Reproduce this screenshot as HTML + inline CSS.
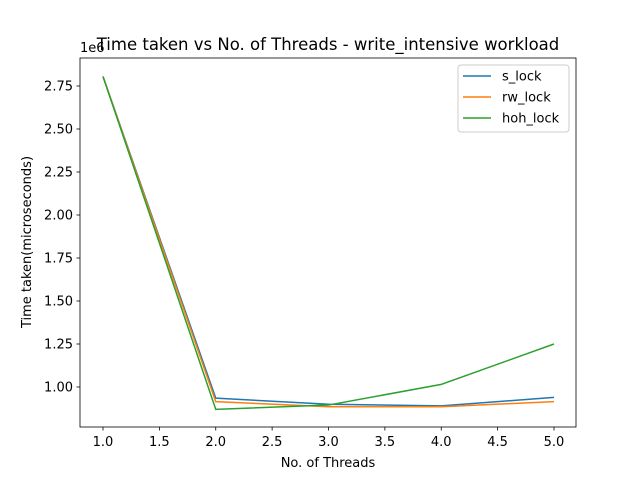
<!DOCTYPE html>
<html><head><meta charset="utf-8"><style>
body{margin:0;background:#fff;font-family:"Liberation Sans","DejaVu Sans",sans-serif}
</style></head><body>
<svg id="chart" width="640" height="480" xmlns="http://www.w3.org/2000/svg" font-family="DejaVu Sans, Liberation Sans, sans-serif">
<rect width="640" height="480" fill="#fff"/>
<g id="grid"></g>
<g id="lines"></g>
<rect x="80" y="58" width="496" height="369" fill="none" stroke="#000" stroke-width="0.8"/>
<text x="328" y="50" text-anchor="middle" font-size="16.5">Time taken vs No. of Threads - write_intensive workload</text>
<text x="328" y="467" text-anchor="middle" font-size="13">No. of Threads</text>
<text transform="translate(31,242) rotate(-90)" text-anchor="middle" font-size="13">Time taken(microseconds)</text>
<text x="80" y="52" font-size="13">1e6</text>
<g id="legend">
<rect x="458" y="65" width="111" height="67" fill="#fff" stroke="#ccc" rx="3"/>
</g>
</svg>
<script>
const xValues=[1,2,3,4,5];
const sLock=[2.805,0.935,0.90,0.89,0.94];
const rwLock=[2.805,0.915,0.885,0.885,0.915];
const hohLock=[2.805,0.87,0.895,1.015,1.25];
const seriesNames=["s_lock","rw_lock","hoh_lock"];
const xTicks=[1.0,1.5,2.0,2.5,3.0,3.5,4.0,4.5,5.0];
const yTicks=[1.00,1.25,1.50,1.75,2.00,2.25,2.50,2.75];
const colors=["#1f77b4","#ff7f0e","#2ca02c"];
const NS="http://www.w3.org/2000/svg";
const X=v=>103+(v-1)*112.75;
const Y=v=>387-(v-1)*172;
const svg=document.getElementById('chart');
const g=document.getElementById('grid');
function mk(t,a,p){const e=document.createElementNS(NS,t);for(const k in a)e.setAttribute(k,a[k]);(p||svg).appendChild(e);return e;}
xTicks.forEach(v=>{
 const l=mk('line',{x1:X(v),x2:X(v),y1:427,y2:430.5,stroke:'#000','stroke-width':0.8},g);
 
 
 const t=mk('text',{x:X(v),y:446,'text-anchor':'middle','font-size':13},g);t.textContent=v.toFixed(1);
 
 
});
yTicks.forEach(v=>{
 const l=mk('line',{x1:76.5,x2:80,y1:Y(v),y2:Y(v),stroke:'#000','stroke-width':0.8},g);
 
 
 const t=mk('text',{x:73,y:Y(v)+4.5,'text-anchor':'end','font-size':13},g);t.textContent=v.toFixed(2);
 
 
});
const lg=document.getElementById('lines');
[sLock,rwLock,hohLock].forEach((s,i)=>{
 const p=mk('polyline',{points:s.map((v,j)=>X(xValues[j])+','+Y(v)).join(' '),fill:'none',stroke:colors[i],'stroke-width':1.5},lg);
 
 
 const leg=document.getElementById('legend');
 const y=76+i*21;
 const ll=mk('line',{x1:463,x2:491,y1:y,y2:y,stroke:colors[i],'stroke-width':1.5},leg);
 
 
 const t=mk('text',{x:502,y:y+4.5,'font-size':13},leg);t.textContent=seriesNames[i];
 
 
});
</script>
</body></html>
